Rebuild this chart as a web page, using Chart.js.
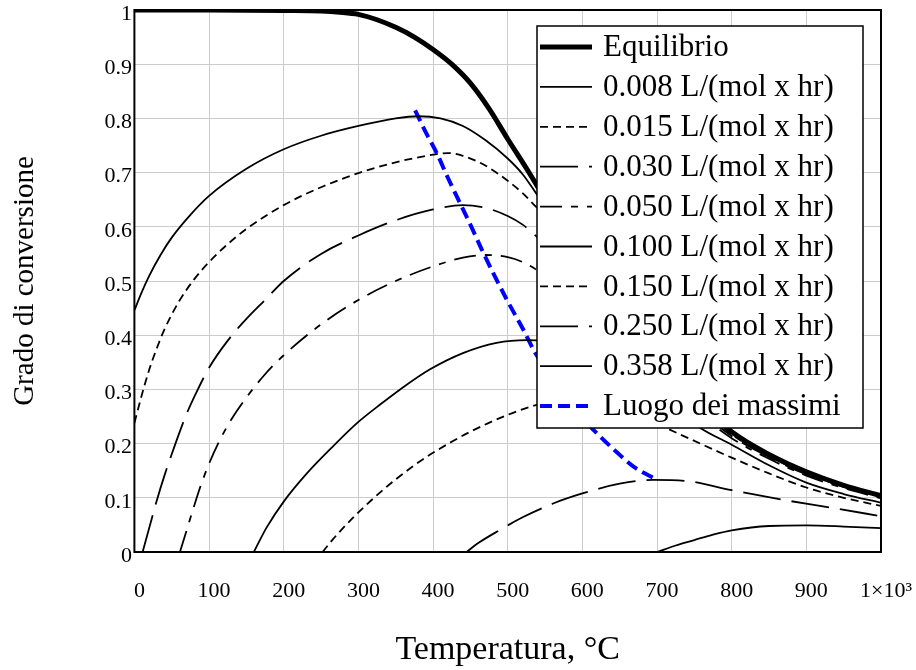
<!DOCTYPE html>
<html>
<head>
<meta charset="utf-8">
<script src="https://cdn.jsdelivr.net/npm/chart.js@4.4.0/dist/chart.umd.min.js"></script>
<style>
  html, body { margin: 0; padding: 0; background: #fff; }
</style>
</head>
<body>
<canvas id="conversione" width="916" height="670"></canvas>
<script>
// serie
const seriesLabels = [
  "Equilibrio",
  "0.008 L/(mol x hr)",
  "0.015 L/(mol x hr)",
  "0.030 L/(mol x hr)",
  "0.050 L/(mol x hr)",
  "0.100 L/(mol x hr)",
  "0.150 L/(mol x hr)",
  "0.250 L/(mol x hr)",
  "0.358 L/(mol x hr)",
  "Luogo dei massimi"
];

const xTickValues = [0, 100, 200, 300, 400, 500, 600, 700, 800, 900, 1000];
const xTickLabels = ["0", "100", "200", "300", "400", "500", "600", "700", "800", "900", "1×10³"];
const yTickValues = [0, 0.1, 0.2, 0.3, 0.4, 0.5, 0.6, 0.7, 0.8, 0.9, 1];
const yTickLabels = ["0", "0.1", "0.2", "0.3", "0.4", "0.5", "0.6", "0.7", "0.8", "0.9", "1"];

const tEq = [0, 100, 200, 250, 275, 300, 325, 350, 375, 400, 425, 450, 475, 500, 525, 550, 600, 650, 700, 750, 800, 850, 900, 950, 1000];
const xEq = [1.0, 1.0, 0.999, 0.998, 0.996, 0.992, 0.982, 0.968, 0.95, 0.927, 0.9, 0.865, 0.818, 0.762, 0.708, 0.652, 0.545, 0.445, 0.36, 0.285, 0.222, 0.18, 0.148, 0.123, 0.104];

const t008 = [0, 10, 20, 35, 50, 75, 100, 150, 200, 250, 300, 350, 380, 410, 440, 470, 500, 520, 537, 550, 575, 600, 650, 700, 750, 800, 850, 900, 950, 1000];
const x008 = [0.446, 0.48, 0.51, 0.548, 0.58, 0.622, 0.657, 0.707, 0.743, 0.768, 0.786, 0.8, 0.804, 0.8, 0.786, 0.76, 0.726, 0.697, 0.664, 0.638, 0.59, 0.54, 0.435, 0.352, 0.28, 0.22, 0.178, 0.147, 0.123, 0.103];

const t015 = [0, 10, 20, 30, 40, 60, 80, 100, 125, 150, 200, 250, 300, 350, 400, 420, 440, 470, 500, 520, 537, 550, 600, 650, 700, 750, 800, 850, 900, 950, 1000];
const x015 = [0.238, 0.29, 0.337, 0.376, 0.41, 0.463, 0.503, 0.535, 0.568, 0.596, 0.64, 0.673, 0.699, 0.719, 0.733, 0.736, 0.731, 0.713, 0.685, 0.662, 0.638, 0.62, 0.52, 0.425, 0.345, 0.275, 0.217, 0.177, 0.145, 0.121, 0.102];

const t030 = [11, 20, 30, 40, 55, 70, 85, 100, 125, 150, 175, 200, 250, 300, 350, 400, 440, 470, 500, 520, 537, 550, 600, 650, 700, 750, 800, 850, 900, 950, 1000];
const x030 = [0, 0.045, 0.095, 0.14, 0.2, 0.255, 0.3, 0.34, 0.39, 0.43, 0.465, 0.5, 0.55, 0.584, 0.612, 0.632, 0.64, 0.635, 0.62, 0.604, 0.584, 0.565, 0.49, 0.41, 0.336, 0.27, 0.214, 0.175, 0.143, 0.12, 0.101];

const t050 = [61, 70, 80, 90, 100, 115, 130, 150, 175, 200, 250, 300, 350, 400, 440, 470, 500, 520, 537, 550, 600, 650, 700, 750, 800, 850, 900, 950, 1000];
const x050 = [0, 0.04, 0.085, 0.127, 0.163, 0.208, 0.245, 0.285, 0.328, 0.363, 0.42, 0.465, 0.5, 0.527, 0.543, 0.548, 0.544, 0.535, 0.522, 0.51, 0.455, 0.39, 0.322, 0.262, 0.21, 0.172, 0.141, 0.118, 0.099];

const t100 = [160, 177, 200, 231, 266, 300, 330, 356, 396, 440, 485, 526, 550, 600, 650, 700, 758, 800, 850, 900, 950, 1000];
const x100 = [0, 0.045, 0.093, 0.145, 0.195, 0.24, 0.273, 0.3, 0.337, 0.367, 0.386, 0.391, 0.389, 0.372, 0.338, 0.29, 0.229, 0.198, 0.16, 0.128, 0.107, 0.091];

const t150 = [252, 265, 280, 300, 325, 350, 375, 400, 450, 500, 540, 570, 590, 620, 650, 680, 709, 758, 800, 850, 900, 950, 1000];
const x150 = [0, 0.022, 0.045, 0.073, 0.105, 0.134, 0.16, 0.183, 0.222, 0.253, 0.272, 0.282, 0.285, 0.28, 0.268, 0.251, 0.231, 0.2, 0.174, 0.145, 0.119, 0.1, 0.085];

const t250 = [445, 460, 490, 520, 560, 600, 650, 695, 740, 800, 870, 937, 1000];
const x250 = [0, 0.016, 0.041, 0.064, 0.089, 0.108, 0.126, 0.133, 0.131, 0.114, 0.096, 0.081, 0.066];

const t358 = [700, 725, 750, 775, 800, 850, 900, 950, 1000];
const x358 = [0, 0.012, 0.022, 0.032, 0.04, 0.048, 0.049, 0.047, 0.044];

const tMax = [376, 390, 405, 420, 436, 452, 467, 483, 499, 521, 537, 560, 585, 611, 647, 669, 700];
const xMax = [0.815, 0.775, 0.736, 0.69, 0.644, 0.598, 0.553, 0.508, 0.465, 0.41, 0.367, 0.32, 0.273, 0.231, 0.183, 0.157, 0.133];

const seriesT = [tEq, t008, t015, t030, t050, t100, t150, t250, t358, tMax];
const seriesX = [xEq, x008, x015, x030, x050, x100, x150, x250, x358, xMax];

// stili
const shortDash = [8, 5];
const longDash = [38, 11];
const dashDot = [22, 9, 7, 9];
const lineDashes = [[], [], shortDash, longDash, dashDot, [], shortDash, longDash, [], [12, 6]];
const lineWidths = [5, 1.8, 1.8, 1.8, 1.8, 1.8, 1.8, 1.8, 1.8, 4];
const lineColors = ["#000", "#000", "#000", "#000", "#000", "#000", "#000", "#000", "#000", "#0000ff"];

const FONT = '"Liberation Serif", "Times New Roman", serif';
Chart.defaults.font.family = FONT;
Chart.defaults.color = "#000";

const datasets = seriesLabels.map((label, i) => ({
  label: label,
  data: seriesT[i].map((t, j) => ({ x: t, y: seriesX[i][j] })),
  borderColor: lineColors[i],
  borderWidth: lineWidths[i],
  borderDash: lineDashes[i],
  pointRadius: 0,
  fill: false,
  cubicInterpolationMode: "monotone"
}));

const noPad = scale => {
  scale.paddingTop = 0;
  scale.paddingBottom = 0;
  scale.paddingLeft = 0;
  scale.paddingRight = 0;
};

const frameAndLegend = {
  id: "frameAndLegend",
  afterDatasetsDraw(chart) {
    const ctx = chart.ctx;
    const a = chart.chartArea;
    ctx.save();
    ctx.strokeStyle = "#000";
    ctx.lineWidth = 2;
    ctx.setLineDash([]);
    ctx.strokeRect(a.left, a.top, a.right - a.left, a.bottom - a.top);

    // legenda
    const bx = 537, by = 26, bw = 326, bh = 402;
    ctx.fillStyle = "#fff";
    ctx.fillRect(bx, by, bw, bh);
    ctx.lineWidth = 1.5;
    ctx.strokeRect(bx, by, bw, bh);
    ctx.font = "31px " + FONT;
    ctx.textBaseline = "middle";
    ctx.textAlign = "left";
    chart.data.datasets.forEach((ds, i) => {
      const y = 47 + i * 39.9;
      ctx.beginPath();
      ctx.setLineDash(ds.borderDash);
      ctx.lineWidth = ds.borderWidth;
      ctx.strokeStyle = ds.borderColor;
      ctx.moveTo(540, y);
      ctx.lineTo(592, y);
      ctx.stroke();
      ctx.setLineDash([]);
      ctx.fillStyle = "#000";
      ctx.fillText(ds.label, 603, y + 1);
    });
    ctx.restore();
  }
};

new Chart(document.getElementById("conversione").getContext("2d"), {
  type: "line",
  data: { datasets: datasets },
  options: {
    responsive: false,
    animation: false,
    devicePixelRatio: 1,
    layout: { padding: { top: 10, right: 35, left: 0, bottom: 0 } },
    plugins: { legend: { display: false }, tooltip: { enabled: false } },
    scales: {
      x: {
        type: "linear",
        min: 0,
        max: 1000,
        afterBuildTicks: scale => { scale.ticks = xTickValues.map(v => ({ value: v })); },
        afterFit: scale => { scale.height = 118; noPad(scale); },
        ticks: {
          callback: (v, i) => xTickLabels[i],
          font: { size: 22 },
          padding: 26,
          labelOffset: 5,
          maxRotation: 0,
          autoSkip: false
        },
        grid: { color: "#cccccc", lineWidth: 1, drawTicks: false },
        border: { display: false },
        title: {
          display: true,
          text: "Temperatura, °C",
          font: { size: 34 },
          padding: { top: 0, bottom: 0 }
        }
      },
      y: {
        type: "linear",
        min: 0,
        max: 1,
        afterBuildTicks: scale => { scale.ticks = yTickValues.map(v => ({ value: v })); },
        afterFit: scale => { scale.width = 134.4; noPad(scale); },
        ticks: {
          callback: (v, i) => yTickLabels[i],
          font: { size: 22 },
          padding: 2.5,
          labelOffset: 4,
          autoSkip: false
        },
        grid: { color: "#cccccc", lineWidth: 1, drawTicks: false },
        border: { display: false },
        title: {
          display: true,
          text: "Grado di conversione",
          font: { size: 29 },
          padding: { top: 8, bottom: 0 }
        }
      }
    }
  },
  plugins: [frameAndLegend]
});
</script>
</body>
</html>
